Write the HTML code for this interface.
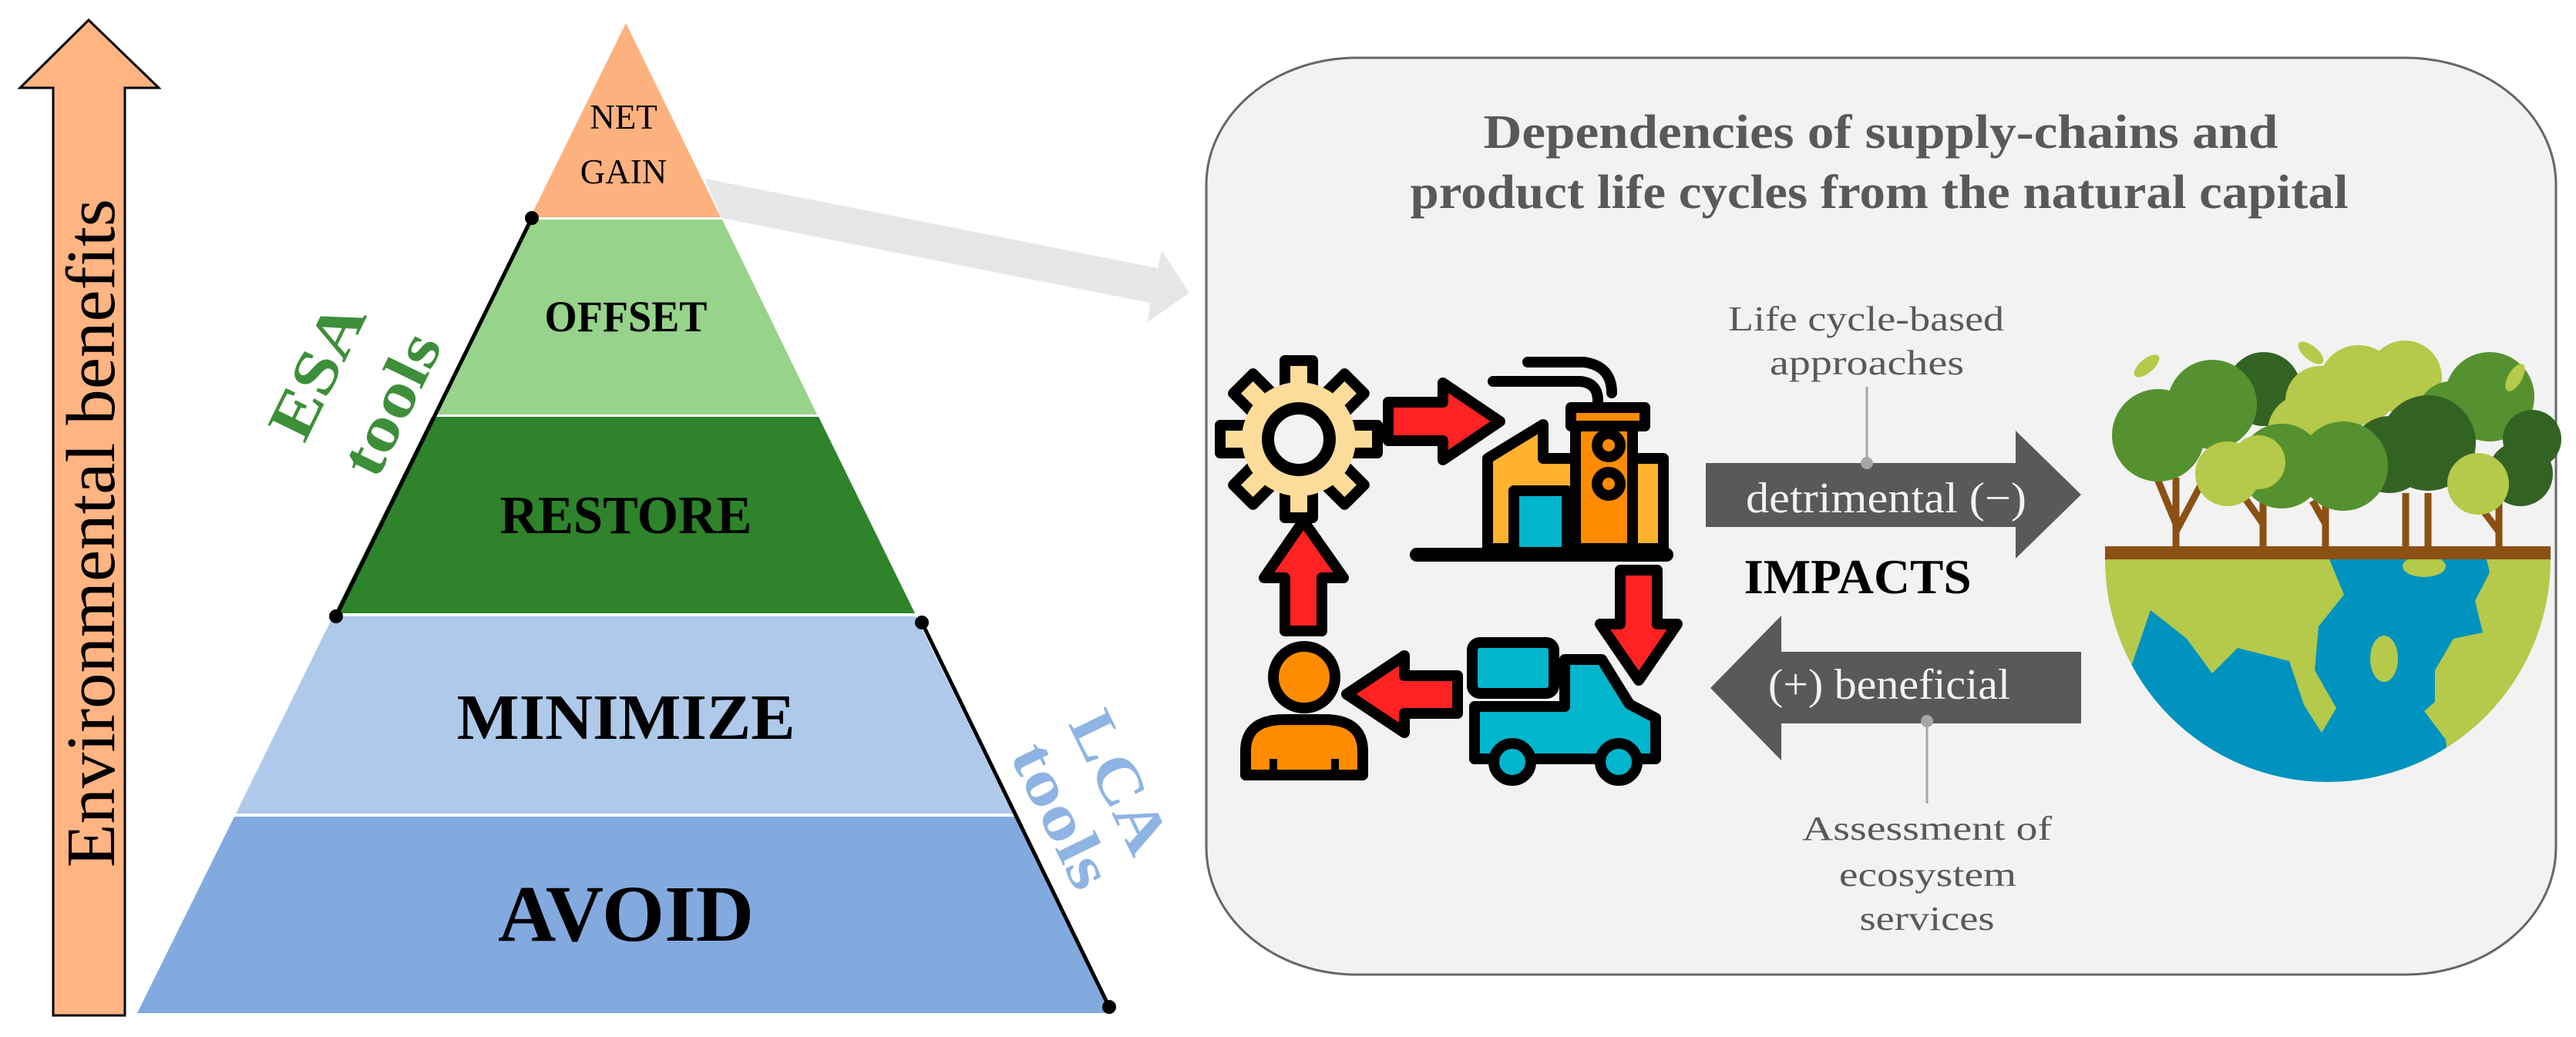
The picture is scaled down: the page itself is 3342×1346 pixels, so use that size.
<!DOCTYPE html>
<html><head><meta charset="utf-8"><style>
html,body{margin:0;padding:0;background:#fff;}
svg{display:block;}
text{font-family:"Liberation Serif",serif;}
</style></head><body>
<svg width="3342" height="1346" viewBox="0 0 3342 1346" xmlns="http://www.w3.org/2000/svg">
<rect width="3342" height="1346" fill="#fff"/>
<polygon points="115,26 206,114 162,114 162,1318 69,1318 69,114 26,114" fill="#ffb482" stroke="#000" stroke-width="3"/>
<text x="0" y="0" transform="translate(148,692) rotate(-90)" text-anchor="middle" font-size="90" textLength="868" lengthAdjust="spacingAndGlyphs" fill="#000">Environmental benefits</text>

<polygon points="915,232 1502,348 1507,325 1543,380 1489,418 1492,393 936,283" fill="#e6e6e6"/>

<polygon points="812,30 935,282 688,282" fill="#fdb17f"/>
<polygon points="686,285 937,285 1060,538 562,538" fill="#97d38a"/>
<polygon points="560,541 1062,541 1187,796 434,796" fill="#2e832b"/>
<polygon points="432,800 1188,800 1314,1056 306,1056" fill="#aec9ea"/>
<polygon points="304,1060 1316,1060 1440,1315 178,1315" fill="#82aadf"/>

<text x="809" y="167" text-anchor="middle" font-size="45" fill="#000">NET</text>
<text x="809" y="238" text-anchor="middle" font-size="45" fill="#000">GAIN</text>
<text x="812" y="430" text-anchor="middle" font-size="57" font-weight="bold" textLength="211" lengthAdjust="spacingAndGlyphs" fill="#000">OFFSET</text>
<text x="812" y="692" text-anchor="middle" font-size="70" font-weight="bold" textLength="327" lengthAdjust="spacingAndGlyphs" fill="#000">RESTORE</text>
<text x="812" y="959" text-anchor="middle" font-size="84" font-weight="bold" textLength="439" lengthAdjust="spacingAndGlyphs" fill="#000">MINIMIZE</text>
<text x="812" y="1221" text-anchor="middle" font-size="104" font-weight="bold" textLength="332" lengthAdjust="spacingAndGlyphs" fill="#000">AVOID</text>

<line x1="690" y1="283" x2="436" y2="800" stroke="#000" stroke-width="5"/>
<circle cx="690" cy="283" r="9" fill="#000"/>
<circle cx="436" cy="800" r="9" fill="#000"/>
<line x1="1196" y1="808" x2="1439" y2="1307" stroke="#000" stroke-width="5"/>
<circle cx="1196" cy="808" r="9" fill="#000"/>
<circle cx="1439" cy="1307" r="9" fill="#000"/>

<text transform="translate(411,481) rotate(-64)" text-anchor="middle" dominant-baseline="central" font-size="82" font-weight="bold" textLength="186" lengthAdjust="spacingAndGlyphs" fill="#3d8f3a">ESA</text>
<text transform="translate(507,524) rotate(-64)" text-anchor="middle" dominant-baseline="central" font-size="82" font-weight="bold" textLength="196" lengthAdjust="spacingAndGlyphs" fill="#3d8f3a">tools</text>
<text transform="translate(1453,1015) rotate(64)" text-anchor="middle" dominant-baseline="central" font-size="82" font-weight="bold" textLength="195" lengthAdjust="spacingAndGlyphs" fill="#8eb4e3">LCA</text>
<text transform="translate(1378,1058) rotate(64)" text-anchor="middle" dominant-baseline="central" font-size="82" font-weight="bold" textLength="200" lengthAdjust="spacingAndGlyphs" fill="#8eb4e3">tools</text>

<rect x="1565" y="75" width="1751" height="1190" rx="195" ry="165" fill="#f2f2f2" stroke="#666" stroke-width="3"/>
<text x="2440" y="192" text-anchor="middle" font-size="62" font-weight="bold" textLength="1031" lengthAdjust="spacingAndGlyphs" fill="#595959">Dependencies of supply-chains and</text>
<text x="2438" y="270" text-anchor="middle" font-size="62" font-weight="bold" textLength="1217" lengthAdjust="spacingAndGlyphs" fill="#595959">product life cycles from the natural capital</text>

<text x="2421" y="429" text-anchor="middle" font-size="46" textLength="358" lengthAdjust="spacingAndGlyphs" fill="#595959">Life cycle-based</text>
<text x="2422" y="486" text-anchor="middle" font-size="46" textLength="252" lengthAdjust="spacingAndGlyphs" fill="#595959">approaches</text>
<line x1="2422" y1="502" x2="2422" y2="601" stroke="#a6a6a6" stroke-width="3"/>
<polygon points="2213,601 2615,601 2615,559 2700,642 2615,725 2615,684 2213,684" fill="#595959"/>
<circle cx="2422" cy="601" r="8" fill="#a6a6a6"/>
<text x="2447" y="665" text-anchor="middle" font-size="56" textLength="364" lengthAdjust="spacingAndGlyphs" fill="#f2f2f2">detrimental (−)</text>
<text x="2410" y="770" text-anchor="middle" font-size="64" font-weight="bold" textLength="295" lengthAdjust="spacingAndGlyphs" fill="#000">IMPACTS</text>
<polygon points="2700,846 2311,846 2311,799 2219,893 2311,987 2311,939 2700,939" fill="#595959"/>
<text x="2451" y="907" text-anchor="middle" font-size="56" textLength="314" lengthAdjust="spacingAndGlyphs" fill="#f2f2f2">(+) beneficial</text>
<line x1="2500" y1="936" x2="2500" y2="1043" stroke="#a6a6a6" stroke-width="3"/>
<circle cx="2500" cy="936" r="8" fill="#a6a6a6"/>
<text x="2500" y="1090" text-anchor="middle" font-size="44" textLength="324" lengthAdjust="spacingAndGlyphs" fill="#595959">Assessment of</text>
<text x="2501" y="1150" text-anchor="middle" font-size="44" textLength="230" lengthAdjust="spacingAndGlyphs" fill="#595959">ecosystem</text>
<text x="2500" y="1207" text-anchor="middle" font-size="44" textLength="175" lengthAdjust="spacingAndGlyphs" fill="#595959">services</text>

<g transform="translate(1685,570)" stroke="#000" stroke-width="14" stroke-linejoin="round">
  <g fill="#fddc9a">
    <rect x="-18" y="-102" width="36" height="40" transform="rotate(0)"/>
    <rect x="-18" y="-102" width="36" height="40" transform="rotate(45)"/>
    <rect x="-18" y="-102" width="36" height="40" transform="rotate(90)"/>
    <rect x="-18" y="-102" width="36" height="40" transform="rotate(135)"/>
    <rect x="-18" y="-102" width="36" height="40" transform="rotate(180)"/>
    <rect x="-18" y="-102" width="36" height="40" transform="rotate(225)"/>
    <rect x="-18" y="-102" width="36" height="40" transform="rotate(270)"/>
    <rect x="-18" y="-102" width="36" height="40" transform="rotate(315)"/>
  </g>
  <circle r="74" fill="#fddc9a" stroke="none"/>
  <circle r="40" fill="#f2f2f2" stroke-width="16"/>
</g>

<g fill="#ff2222" stroke="#000" stroke-width="14" stroke-linejoin="round">
  <polygon points="1801,522 1872,522 1872,497 1946,547 1872,597 1872,572 1801,572"/>
  <polygon points="2102,740 2150,740 2150,810 2176,810 2126,883 2076,810 2102,810"/>
  <polygon points="1891,877 1822,877 1822,851 1747,901 1822,951 1822,926 1891,926"/>
  <polygon points="1667,819 1715,819 1715,750 1743,750 1691,676 1640,750 1667,750"/>
</g>

<g stroke="#000" stroke-width="14" stroke-linejoin="round" stroke-linecap="round">
  <path d="M1937,495 L2050,495 Q2073,497 2073,520" fill="none"/>
  <path d="M1982,470 L2055,470 Q2091,475 2091,510" fill="none"/>
  <polygon points="1930,712 1930,595 2002,551 2002,595 2044,595 2044,712" fill="#ffb22e"/>
  <rect x="2118" y="595" width="40" height="117" fill="#ffb22e"/>
  <rect x="2044" y="545" width="74" height="167" fill="#ff8c00"/>
  <rect x="2038" y="529" width="96" height="24" fill="#ff8c00"/>
  <rect x="1964" y="637" width="69" height="80" fill="#00b5cc"/>
  <circle cx="2087" cy="578" r="15" fill="#ff8c00"/>
  <circle cx="2087" cy="628" r="15" fill="#ff8c00"/>
  <line x1="1838" y1="720" x2="2162" y2="720" stroke-width="18"/>
</g>

<g stroke="#000" stroke-width="14" stroke-linejoin="round">
  <rect x="1910" y="834" width="106" height="66" rx="10" fill="#00b5cc"/>
  <path d="M1913,917 L2030,917 L2030,856 L2078,856 L2114,914 L2148,932 L2148,985 L1913,985 Z" fill="#00b5cc"/>
  <circle cx="1962" cy="989" r="24" fill="#00b5cc"/>
  <circle cx="2100" cy="989" r="24" fill="#00b5cc"/>
</g>

<g stroke="#000" stroke-width="14" stroke-linejoin="round">
  <circle cx="1692" cy="879" r="40" fill="#ff8c00"/>
  <path d="M1616,1006 L1616,975 Q1616,934 1666,934 L1718,934 Q1768,934 1768,975 L1768,1006 Z" fill="#ff8c00"/>
  <line x1="1652" y1="1006" x2="1652" y2="985" stroke-width="10"/>
  <line x1="1732" y1="1006" x2="1732" y2="985" stroke-width="10"/>
</g>

<defs><clipPath id="gc"><path d="M2731,726 L3309,726 A289,289 0 0 1 2731,726 Z"/></clipPath></defs>
<path d="M2731,726 L3309,726 A289,289 0 0 1 2731,726 Z" fill="#b5c94a"/>
<g clip-path="url(#gc)">
  <path d="M3022,726 L3226,726 L3230,743 L3211,780 L3221,821 L3183,829 L3159,870 L3159,911 L3145,923 L3173,960 L3180,1030 L2700,1030 L2766,862 L2790,792 L2837,829 L2870,874 L2903,841 L2970,858 L2989,915 L3012,951 L3031,919 L3003,870 L3008,813 L3041,772 Z" fill="#0093bf"/>
  <ellipse cx="3093" cy="855" rx="18" ry="30" fill="#b5c94a"/>
  <ellipse cx="3145" cy="735" rx="28" ry="14" fill="#b5c94a"/>
</g>
<g stroke="#8b5014" stroke-width="9" fill="none">
  <path d="M2823,709 L2823,620 M2823,680 L2790,600 M2823,690 L2855,630"/>
  <path d="M2936,709 L2936,630 M2936,680 L2908,640"/>
  <path d="M3017,709 L3017,640 M3017,680 L3000,650"/>
  <path d="M3121,709 L3121,640"/>
  <path d="M3150,709 L3150,640"/>
  <path d="M3242,709 L3242,630 M3242,690 L3212,650"/>
</g>
<g>
  <circle cx="2937" cy="505" r="48" fill="#336323"/>
  <circle cx="3060" cy="500" r="52" fill="#b5c94a"/>
  <circle cx="3120" cy="490" r="48" fill="#b5c94a"/>
  <circle cx="3010" cy="520" r="45" fill="#b5c94a"/>
  <circle cx="2800" cy="565" r="60" fill="#55922f"/>
  <circle cx="2870" cy="525" r="58" fill="#55922f"/>
  <circle cx="3230" cy="515" r="58" fill="#55922f"/>
  <circle cx="3180" cy="540" r="45" fill="#55922f"/>
  <circle cx="3285" cy="570" r="38" fill="#336323"/>
  <circle cx="2990" cy="560" r="48" fill="#b5c94a"/>
  <circle cx="3150" cy="575" r="62" fill="#336323"/>
  <circle cx="3100" cy="590" r="50" fill="#336323"/>
  <circle cx="2960" cy="605" r="55" fill="#55922f"/>
  <circle cx="3040" cy="605" r="58" fill="#55922f"/>
  <circle cx="3270" cy="615" r="42" fill="#336323"/>
  <circle cx="2890" cy="615" r="42" fill="#b5c94a"/>
  <circle cx="2930" cy="600" r="35" fill="#b5c94a"/>
  <circle cx="3215" cy="628" r="40" fill="#b5c94a"/>
  <ellipse cx="2785" cy="475" rx="20" ry="9" transform="rotate(-40 2785 475)" fill="#b5c94a"/>
  <ellipse cx="2998" cy="458" rx="20" ry="9" transform="rotate(40 2998 458)" fill="#b5c94a"/>
  <ellipse cx="3263" cy="490" rx="20" ry="9" transform="rotate(-60 3263 490)" fill="#b5c94a"/>
</g>
<rect x="2731" y="709" width="578" height="17" fill="#8b5014"/>
</svg>
</body></html>
